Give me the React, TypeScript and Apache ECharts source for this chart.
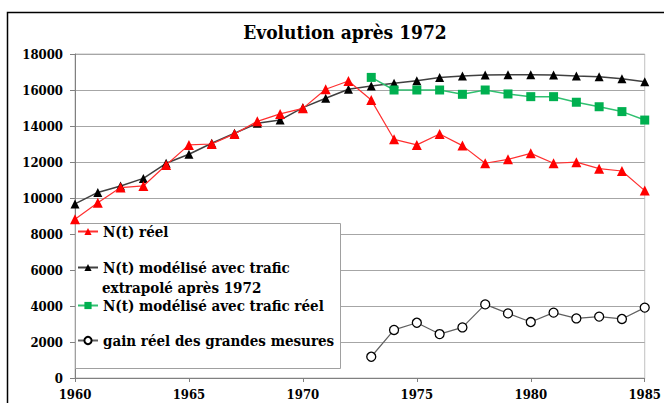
import React, { useEffect, useRef } from "react";
import * as echarts from "echarts";

const years = [1960, 1961, 1962, 1963, 1964, 1965, 1966, 1967, 1968, 1969, 1970, 1971, 1972, 1973, 1974, 1975, 1976, 1977, 1978, 1979, 1980, 1981, 1982, 1983, 1984, 1985];
const realN = [8820, 9740, 10580, 10670, 11830, 12950, 13000, 13560, 14260, 14670, 14980, 16040, 16500, 15440, 13260, 12950, 13560, 12910, 11930, 12150, 12480, 11930, 11990, 11630, 11500, 10410];
const modelExtrap = [9670, 10310, 10670, 11090, 11930, 12430, 13040, 13600, 14150, 14330, 15020, 15540, 16040, 16220, 16370, 16520, 16700, 16780, 16830, 16850, 16850, 16830, 16780, 16740, 16630, 16460];
const laterYears = [1973, 1974, 1975, 1976, 1977, 1978, 1979, 1980, 1981, 1982, 1983, 1984, 1985];
const modelReal = [16700, 16000, 16000, 16000, 15760, 16000, 15780, 15630, 15630, 15320, 15070, 14800, 14330];
const gain = [1180, 2670, 3070, 2440, 2810, 4090, 3590, 3110, 3630, 3310, 3410, 3280, 3910];

const nameReal = "N(t) réel";
const nameExtrap = "N(t) modélisé avec trafic";
const nameExtrap2 = "extrapolé après 1972";
const nameModelReal = "N(t) modélisé avec trafic réel";
const nameGain = "gain réel des grandes mesures";

const FONT = "DejaVu Serif Condensed";

export default function App() {
  const ref = useRef<HTMLDivElement>(null);
  useEffect(() => {
    if (!ref.current) return;
    const chart = echarts.init(ref.current, null, { renderer: "svg" });
    const legendText = { fontFamily: FONT, fontWeight: "bold", fontSize: 15, color: "#000" };
    const mkLegend = (name: string, top: number) => ({
      show: true,
      orient: "vertical",
      left: 77,
      top,
      padding: 0,
      itemWidth: 20,
      itemHeight: 9,
      data: [name],
      textStyle: legendText,
      selectedMode: false,
    });
    chart.setOption({
      animation: false,
      backgroundColor: "#fff",
      title: {
        text: "Evolution après 1972",
        left: 340,
        textAlign: "center",
        top: 17,
        textStyle: { fontFamily: FONT, fontWeight: "bold", fontSize: 19, color: "#000" },
      },
      legend: [
        mkLegend(nameReal, 224),
        mkLegend(nameExtrap, 260),
        mkLegend(nameModelReal, 298),
        mkLegend(nameGain, 333),
      ],
      graphic: [
        {
          type: "rect",
          z: -10,
          shape: { x: 7.5, y: 12.5, width: 720, height: 500 },
          style: { fill: "none", stroke: "#000", lineWidth: 1.5 },
        },
        {
          type: "rect",
          z: 1,
          shape: { x: 75.5, y: 223.5, width: 265, height: 145 },
          style: { fill: "#fff", stroke: "#a0a0a0", lineWidth: 1 },
        },
        {
          type: "text",
          z: 5,
          x: 102,
          y: 280,
          style: {
            text: nameExtrap2,
            fontFamily: FONT,
            fontWeight: "bold",
            fontSize: 15,
            fill: "#000",
          },
        },
      ],
      grid: {
        left: 75,
        right: 19,
        top: 54,
        bottom: 25,
        show: true,
        borderColor: "#c0c0c0",
        borderWidth: 1,
      },
      xAxis: {
        type: "value",
        min: 1960,
        max: 1985,
        interval: 5,
        axisLine: { show: true, lineStyle: { color: "#808080", width: 1 } },
        axisTick: { show: true, length: 4, inside: false, lineStyle: { color: "#808080" } },
        splitLine: { show: false },
        axisLabel: {
          margin: 10,
          fontFamily: FONT,
          fontWeight: "bold",
          fontSize: 13,
          color: "#000",
          formatter: (v: number) => String(v),
        },
      },
      yAxis: {
        type: "value",
        min: 0,
        max: 18000,
        interval: 2000,
        axisLine: { show: true, lineStyle: { color: "#808080", width: 1 } },
        axisTick: { show: true, length: 5, inside: false, lineStyle: { color: "#808080" } },
        splitLine: { show: true, lineStyle: { color: "#a6a6a6", width: 1 } },
        axisLabel: {
          margin: 12,
          fontFamily: FONT,
          fontWeight: "bold",
          fontSize: 13,
          color: "#000",
          formatter: (v: number) => String(v),
        },
      },
      series: [
        {
          name: nameReal,
          type: "line",
          z: 3,
          data: years.map((y, i) => [y, realN[i]]),
          symbol: "triangle",
          symbolSize: 10,
          itemStyle: { color: "#ff0000" },
          lineStyle: { color: "#ff3030", width: 1.2 },
        },
        {
          name: nameExtrap,
          type: "line",
          z: 2,
          data: years.map((y, i) => [y, modelExtrap[i]]),
          symbol: "triangle",
          symbolSize: 9,
          itemStyle: { color: "#000" },
          lineStyle: { color: "#404040", width: 1.5 },
        },
        {
          name: nameModelReal,
          type: "line",
          z: 2,
          data: laterYears.map((y, i) => [y, modelReal[i]]),
          symbol: "rect",
          symbolSize: 9,
          itemStyle: { color: "#00b050" },
          lineStyle: { color: "#30c070", width: 1.5 },
        },
        {
          name: nameGain,
          type: "line",
          z: 2,
          data: laterYears.map((y, i) => [y, gain[i]]),
          symbol: "circle",
          symbolSize: 9,
          showAllSymbol: true,
          itemStyle: { color: "#fff", borderColor: "#000", borderWidth: 1.3 },
          lineStyle: { color: "#606060", width: 1.2 },
        },
      ],
    });
    return () => chart.dispose();
  }, []);
  return (
    <div
      ref={ref}
      style={{ position: "absolute", left: 0, top: 0, width: 664, height: 403 }}
    />
  );
}
